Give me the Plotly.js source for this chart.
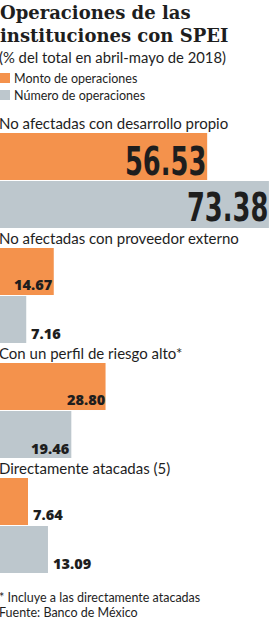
<!DOCTYPE html>
<html>
<head>
<meta charset="utf-8">
<script src="https://cdn.plot.ly/plotly-3.0.1.min.js"></script>
<style>html,body{margin:0;padding:0;background:#fff;}#chart{width:269px;height:620px;}</style>
</head>
<body>
<div id="chart"></div>
<script>
// ---- data ----
const categories = [
  "No afectadas con desarrollo propio",
  "No afectadas con proveedor externo",
  "Con un perfil de riesgo alto*",
  "Directamente atacadas (5)"
];
const montoValues = [56.53, 14.67, 28.80, 7.64];
const numeroValues = [73.38, 7.16, 19.46, 13.09];
const seriesNames = ["Monto de operaciones", "Número de operaciones"];
const titleText = "Operaciones de las<br>instituciones con SPEI";
const subtitleText = "(% del total en abril-mayo de 2018)";
const footnotes = ["* Incluye a las directamente atacadas", "Fuente: Banco de México"];

// ---- style ----
const W = 269, H = 620;
const M = {l: 0, r: 0, t: 100, b: 37};
const colors = ["#F4924C", "#BDC7CD"];
const ink = "#1e1e1e";
const plotH = H - M.t - M.b;
const py = p => (H - M.b - p) / plotH;   // pixel from top -> paper y

const traces = [montoValues, numeroValues].map((vals, i) => ({
  type: "bar",
  orientation: "h",
  name: seriesNames[i],
  y: categories,
  x: vals,
  marker: {color: colors[i], line: {width: 0}},
  hoverinfo: "skip",
  showlegend: false
}));

const annotations = [];
// subtitle
annotations.push({text: subtitleText, xref: "paper", yref: "paper", x: 0, y: py(57), xshift: -3,
  xanchor: "left", yanchor: "middle", showarrow: false,
  font: {family: "Lato, sans-serif", size: 14.8, color: ink}});
// legend
const shapes = [];
[78, 95].forEach((p, i) => {
  shapes.push({type: "rect", xref: "paper", yref: "paper", x0: 0, x1: 10 / W,
    y0: py(p + 5), y1: py(p - 5), fillcolor: colors[i], line: {width: 0}});
  annotations.push({text: seriesNames[i], xref: "paper", yref: "paper", x: 14 / W, y: py(p), xshift: -2,
    xanchor: "left", yanchor: "middle", showarrow: false,
    font: {family: "Lato, sans-serif", size: 12.5, color: ink}});
});
// category labels
categories.forEach((c, k) => {
  annotations.push({text: c, xref: "x", yref: "y", x: 0, y: k - 0.5, xshift: -3,
    xanchor: "left", yanchor: "middle", showarrow: false,
    font: {family: "Lato, sans-serif", size: 15, color: ink}});
});
// value labels
const bigIdx = [];
[montoValues, numeroValues].forEach((vals, s) => {
  vals.forEach((v, k) => {
    const big = v > 50;
    const inside = v >= 14;
    let shift;
    if (big) shift = s === 0 ? -19 : 27;
    else shift = s === 0 ? -11 : 38;
    if (big) bigIdx.push(annotations.length);
    annotations.push({
      text: v.toFixed(2), xref: "x", yref: "y", x: v, y: k,
      yshift: -shift, xshift: inside ? 1 : 3,
      xanchor: inside ? "right" : "left", yanchor: "middle", showarrow: false,
      font: big
        ? {family: "'DejaVu Sans', sans-serif", size: 39, color: ink, weight: 700}
        : {family: "'Open Sans', sans-serif", size: 14.5, color: ink, weight: 800}
    });
  });
});
// footnotes
footnotes.forEach((f, i) => {
  annotations.push({text: f, xref: "paper", yref: "paper", x: 0, y: py(597.5 + i * 14.5), xshift: -3,
    xanchor: "left", yanchor: "middle", showarrow: false,
    font: {family: "Lato, sans-serif", size: 12.5, color: ink}});
});

const layout = {
  width: W, height: H,
  margin: M,
  paper_bgcolor: "#fff", plot_bgcolor: "#fff",
  title: {text: titleText, x: 0, xref: "paper", xanchor: "left",
    y: 1, yref: "container", yanchor: "top", pad: {t: 19, l: 0},
    font: {family: "'DejaVu Serif', serif", size: 18, color: ink, weight: 700}},
  barmode: "group",
  bargap: 0.165,
  bargroupgap: 0.02,
  xaxis: {range: [0, 73.4], visible: false, fixedrange: true},
  yaxis: {type: "category", categoryarray: categories, range: [3.5, -0.7],
    visible: false, fixedrange: true},
  showlegend: false,
  annotations: annotations,
  shapes: shapes
};

Plotly.newPlot("chart", traces, layout, {staticPlot: true, displayModeBar: false}).then(gd => {
  // condensed look for the two large figures: squeeze horizontally, keeping the right edge
  const groups = gd.querySelectorAll("g.annotation");
  bigIdx.forEach(i => {
    const g = groups[i];
    if (!g) return;
    const t = g.querySelector("text.annotation-text");
    if (!t) return;
    t.style.transformBox = "fill-box";
    t.style.transformOrigin = "right center";
    t.style.transform = "scaleX(0.66)";
  });
});
</script>
</body>
</html>
